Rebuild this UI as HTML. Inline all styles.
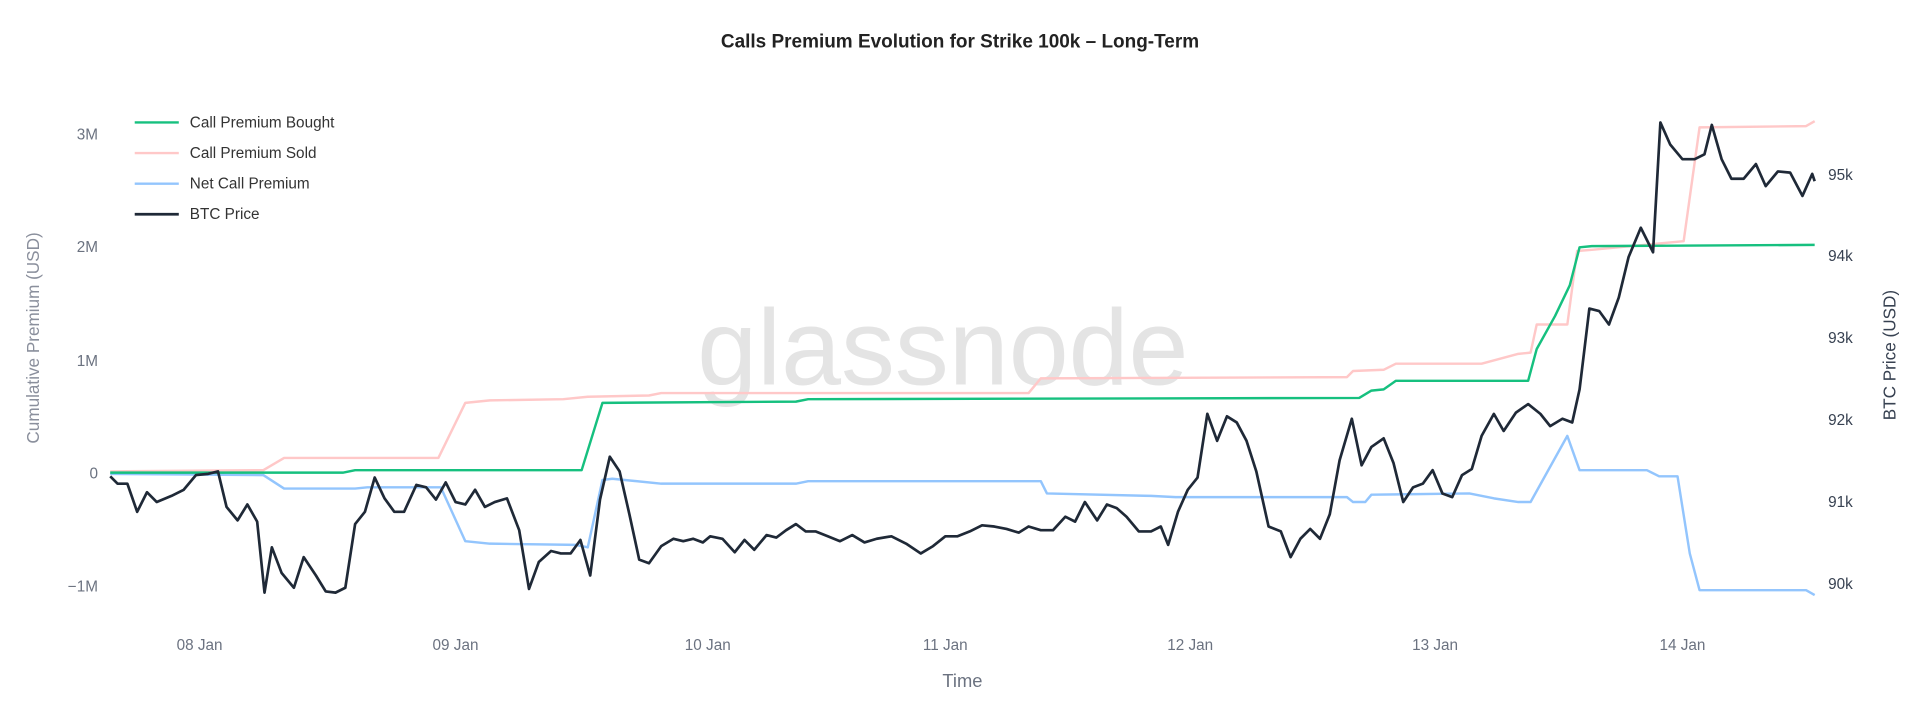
<!DOCTYPE html>
<html><head><meta charset="utf-8"><style>html,body{margin:0;padding:0;background:#fff}svg{display:block}</style></head>
<body>
<svg width="1920" height="719" viewBox="0 0 1568 587.2" xmlns="http://www.w3.org/2000/svg" font-family="Liberation Sans, sans-serif">
<text x="784" y="39" text-anchor="middle" font-size="15.5" font-weight="bold" fill="#222">Calls Premium Evolution for Strike 100k – Long-Term</text>
<text x="770" y="314" text-anchor="middle" font-size="88" fill="#e4e4e4">glassnode</text>
<g font-size="12.5" fill="#6b7280" text-anchor="end">
<text x="80" y="114">3M</text><text x="80" y="206">2M</text><text x="80" y="299">1M</text><text x="80" y="391">0</text><text x="80" y="483">−1M</text>
</g>
<g font-size="12.5" fill="#374151" text-anchor="start">
<text x="1493" y="147">95k</text><text x="1493" y="213">94k</text><text x="1493" y="280">93k</text><text x="1493" y="347">92k</text><text x="1493" y="414">91k</text><text x="1493" y="481">90k</text>
</g>
<text transform="translate(32,276) rotate(-90)" text-anchor="middle" font-size="14" fill="#8a8f9c">Cumulative Premium (USD)</text>
<text transform="translate(1548,290) rotate(-90)" text-anchor="middle" font-size="14" fill="#374151">BTC Price (USD)</text>
<g font-size="12.5" fill="#6b7280" text-anchor="middle">
<text x="163" y="531">08 Jan</text><text x="372" y="531">09 Jan</text><text x="578" y="531">10 Jan</text><text x="772" y="531">11 Jan</text><text x="972" y="531">12 Jan</text><text x="1172" y="531">13 Jan</text><text x="1374" y="531">14 Jan</text>
</g>
<text x="786" y="561" text-anchor="middle" font-size="15" fill="#6b7280">Time</text>
<g fill="none" stroke-width="2" stroke-linejoin="round">
<polyline stroke="#ffc8c8" points="90,385 215,384 232,374 358,374 380,329 400,327 460,326 480,324 530,323 540,321 840,321 850,309 1100,308 1105,303 1130,302 1140,297 1210,297 1240,289 1250,288 1255,265 1280,265 1288,205 1300,204 1375,197 1388,104 1475,103 1482,99"/>
<polyline stroke="#93c5fd" points="90,387 215,388 232,399 290,399 300,398 360,398 380,442 400,444 470,445 480,447 492,392 500,391 540,395 650,395 660,393 850,393 855,403 940,405 960,406 1100,406 1105,410 1115,410 1120,404 1200,403 1220,407 1240,410 1250,410 1280,356 1290,384 1345,384 1355,389 1370,389 1380,452 1388,482 1475,482 1482,486"/>
<polyline stroke="#16c07f" points="90,386 280,386 290,384 475,384 492,329 650,328 660,326 1110,325 1120,319 1130,318 1140,311 1248,311 1255,285 1270,258 1282,233 1290,202 1300,201 1482,200"/>
<polyline stroke="#1f2937" stroke-width="2.2" points="90,389 96,395 104,395 112,418 120,402 128,410 140,405 150,400 160,388 170,387 178,385 185,414 194,425 202,412 210,426 216,484 222,447 230,468 240,480 248,455 258,470 266,483 274,484 282,480 290,428 298,418 306,390 314,407 322,418 330,418 340,396 348,398 356,408 364,394 372,410 380,412 388,400 396,414 404,410 414,407 424,433 432,481 440,459 450,450 458,452 466,452 474,441 482,470 490,408 498,373 506,385 514,420 522,457 530,460 540,446 550,440 558,442 566,440 574,443 580,438 590,440 600,451 608,441 616,449 626,437 634,439 642,433 650,428 658,434 666,434 676,438 686,442 696,437 706,443 716,440 728,438 740,444 752,452 762,446 772,438 782,438 792,434 802,429 812,430 822,432 832,435 840,430 850,433 860,433 870,422 878,426 886,410 896,425 904,412 912,415 920,422 930,434 940,434 948,430 954,445 962,418 970,400 978,390 986,338 994,360 1002,340 1010,345 1018,360 1026,385 1036,430 1046,434 1054,455 1062,440 1070,432 1078,440 1086,420 1094,376 1104,342 1112,380 1120,365 1130,358 1138,378 1146,410 1154,398 1162,395 1170,384 1178,403 1186,406 1194,388 1202,383 1210,356 1220,338 1228,352 1238,337 1248,330 1258,338 1266,348 1276,342 1284,345 1290,318 1298,252 1306,254 1314,265 1322,243 1330,210 1340,186 1350,206 1356,100 1364,118 1374,130 1384,130 1392,126 1398,102 1406,130 1414,146 1424,146 1434,134 1442,152 1452,140 1462,141 1472,160 1480,142 1482,148"/>
</g>
<g font-size="12.5" fill="#333">
<line x1="110" y1="100" x2="146" y2="100" stroke="#16c07f" stroke-width="2"/><text x="155" y="104">Call Premium Bought</text>
<line x1="110" y1="125" x2="146" y2="125" stroke="#ffc8c8" stroke-width="2"/><text x="155" y="129">Call Premium Sold</text>
<line x1="110" y1="150" x2="146" y2="150" stroke="#93c5fd" stroke-width="2"/><text x="155" y="154">Net Call Premium</text>
<line x1="110" y1="175" x2="146" y2="175" stroke="#1f2937" stroke-width="2.2"/><text x="155" y="179">BTC Price</text>
</g>
</svg>
</body></html>
